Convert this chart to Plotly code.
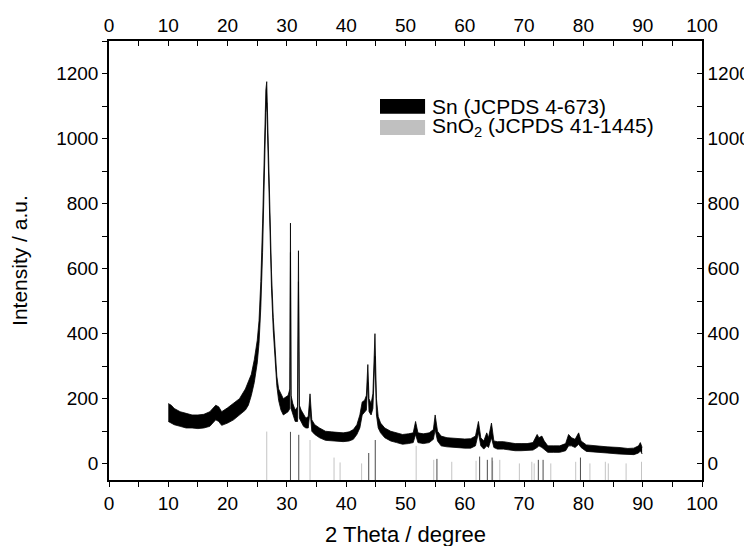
import plotly.graph_objects as go

two_theta = [10.0, 10.5, 11, 12, 13, 14, 15, 16, 17, 18, 18.5, 19, 20, 21, 22, 23, 23.5, 24, 24.5, 25,
             25.3, 25.6, 25.9, 26.1, 26.3, 26.45, 26.6, 26.75, 26.9, 27.1, 27.4, 27.7, 28.0, 28.3, 28.6,
             29.0, 29.4, 29.8, 30.2, 30.5, 30.6, 30.7, 31.0, 31.4, 31.8, 31.95, 32.1, 32.4, 32.8, 33.2,
             33.6, 33.9, 34.2, 34.7, 35.5, 36.5, 37.5, 38.5, 39.5, 40.5, 41.2, 41.8, 42.3, 42.7, 43.1,
             43.4, 43.65, 43.85, 44.2, 44.5, 44.85, 45.1, 45.4, 45.8, 46.5, 47.5, 48.5, 49.5, 50.5, 51.3,
             51.7, 52.1, 53, 54, 54.7, 55.0, 55.4, 56, 57, 58, 59, 60, 61, 61.8, 62.3, 62.7, 63.2, 63.7,
             64.0, 64.5, 64.9, 65.5, 66.5, 67.5, 68.5, 69.5, 70.5, 71.5, 72.2, 72.5, 73.0, 73.4, 74, 75,
             76, 77, 77.5, 78, 78.6, 79.2, 79.6, 80.5, 82, 84, 86, 87.5, 88.5, 89.3, 89.6, 89.9]
lower = [130, 125, 120, 115, 110, 110, 108, 110, 115, 135, 130, 118, 125, 135, 150, 165, 180, 210, 250, 310,
         370, 480, 650, 850, 1000, 1080, 1110, 1000, 840, 680, 540, 410, 310, 240, 195,
         165, 150, 155, 160, 170, 650, 170, 150, 130, 130, 560, 140, 130, 115, 110,
         110, 165, 100, 90, 80, 72, 70, 68, 68, 70, 75, 90, 110, 150, 160,
         165, 250, 160, 150, 170, 330, 150, 110, 95, 80, 70, 65, 60, 62, 65,
         90, 65, 62, 65, 75, 105, 70, 55, 52, 50, 48, 48, 48, 55, 95, 55, 45, 55,
         50, 80, 50, 45, 45, 42, 40, 40, 40, 42, 50, 55, 50, 45, 35, 35,
         35, 40, 55, 55, 50, 60, 50, 38, 35, 33, 30, 28, 28, 33, 40, 30]
upper = [185, 180, 170, 160, 155, 150, 150, 152, 160, 180, 175, 160, 172, 185, 200, 230, 250, 275, 320, 380,
         440, 560, 740, 930, 1080, 1150, 1175, 1060, 900, 730, 590, 450, 345, 270, 230,
         215, 200, 205, 210, 230, 740, 210, 185, 165, 175, 655, 180, 165, 150, 140,
         145, 215, 135, 120, 110, 100, 98, 97, 95, 98, 105, 120, 150, 190, 195,
         210, 305, 200, 185, 215, 400, 200, 145, 125, 110, 100, 95, 90, 92, 95,
         130, 95, 92, 95, 105, 150, 100, 85, 80, 78, 77, 76, 77, 85, 130, 80, 70, 95,
         80, 125, 70, 68, 68, 65, 62, 62, 62, 65, 90, 80, 85, 70, 55, 55,
         55, 62, 90, 80, 75, 95, 70, 58, 55, 52, 50, 47, 48, 55, 65, 50]

# reference patterns (position, relative intensity)
sn_pos = [30.6, 32.0, 43.8, 44.9, 55.3, 62.5, 63.8, 64.6, 72.4, 73.2, 79.5]
sn_int = [98, 89, 33, 73, 15, 22, 12, 19, 12, 12, 19]
sno2_pos = [26.6, 33.9, 37.95, 38.97, 42.6, 51.8, 54.76, 57.8, 61.9, 64.7, 65.9, 69.2, 71.3, 71.7,
            74.5, 78.7, 81.1, 83.7, 84.2, 87.2, 89.8]
sno2_int = [99, 73, 19, 4, 1, 55, 12, 6, 9, 9, 12, 1, 6, 1, 1, 6, 1, 6, 1, 1, 6]

Y_MIN, Y_MAX = -50, 1300


def sticks(pos, inten):
    xs, ys = [], []
    for p, h in zip(pos, inten):
        xs += [p, p, None]
        ys += [Y_MIN, h, None]
    return xs, ys


fig = go.Figure()

sx, sy = sticks(sno2_pos, sno2_int)
fig.add_trace(go.Scatter(x=sx, y=sy, mode="lines", line=dict(color="#c4c4c4", width=1), showlegend=False))
sx, sy = sticks(sn_pos, sn_int)
fig.add_trace(go.Scatter(x=sx, y=sy, mode="lines", line=dict(color="#4a4a4a", width=1), showlegend=False))

fig.add_trace(go.Scatter(x=two_theta, y=lower, mode="lines", line=dict(color="black", width=0.8),
                         showlegend=False))
fig.add_trace(go.Scatter(x=two_theta, y=upper, mode="lines", line=dict(color="black", width=0.8),
                         fill="tonexty", fillcolor="black", showlegend=False))

# dummy trace so the mirrored top / right axes get drawn
fig.add_trace(go.Scatter(x=[0], y=[0], xaxis="x2", yaxis="y2", mode="markers",
                         marker=dict(opacity=0), hoverinfo="skip", showlegend=False))

FONT = "Liberation Sans, Arial"
tickfont = dict(family=FONT, size=19, color="black")
common = dict(showline=True, linecolor="black", linewidth=1.5, showgrid=False, zeroline=False,
              tickcolor="black", ticklen=5, tickwidth=1.2, tickfont=tickfont, automargin=False)

# page body adds an 8px offset, so the figure is 8px smaller than the window
fig.update_layout(
    width=744, height=538,
    margin=dict(l=101, r=50, t=33, b=66),
    paper_bgcolor="white", plot_bgcolor="white",
    font=dict(family=FONT, color="black"),
    xaxis=dict(range=[0, 100], dtick=10, ticks="outside",
               minor=dict(dtick=5, ticks="outside", ticklen=5, tickcolor="black", tickwidth=1.2),
               **common),
    xaxis2=dict(range=[0, 100], dtick=10, ticks="inside", overlaying="x", side="top",
                minor=dict(dtick=5, ticks="inside", ticklen=5, tickcolor="black", tickwidth=1.2),
                **common),
    yaxis=dict(range=[Y_MIN, Y_MAX], dtick=200, tick0=0, ticks="outside",
               minor=dict(dtick=100, tick0=0, ticks="outside", ticklen=5, tickcolor="black", tickwidth=1.2),
               **common),
    yaxis2=dict(range=[Y_MIN, Y_MAX], dtick=200, tick0=0, ticks="inside", overlaying="y", side="right",
                minor=dict(dtick=100, tick0=0, ticks="inside", ticklen=5, tickcolor="black", tickwidth=1.2),
                **common),
)

# axis titles
fig.add_annotation(xref="paper", yref="paper", x=0.5, y=-0.125, xanchor="center", yanchor="middle",
                   text="2 Theta / degree", showarrow=False, font=dict(size=22))
fig.add_annotation(xref="paper", yref="paper", x=-0.151, y=0.5, xanchor="center", yanchor="middle",
                   text="Intensity / a.u.", textangle=-90, showarrow=False, font=dict(size=21))

# legend drawn as boxes + labels
fig.add_shape(type="rect", xref="paper", yref="paper", x0=0.457, x1=0.533, y0=0.834, y1=0.868,
              fillcolor="black", line_width=0)
fig.add_shape(type="rect", xref="paper", yref="paper", x0=0.457, x1=0.533, y0=0.786, y1=0.820,
              fillcolor="#c0c0c0", line_width=0)
fig.add_annotation(xref="paper", yref="paper", x=0.541, y=0.851, xanchor="left", yanchor="middle",
                   text="Sn (JCPDS 4-673)", showarrow=False, font=dict(size=21))
fig.add_annotation(xref="paper", yref="paper", x=0.541, y=0.803, xanchor="left", yanchor="middle",
                   text="SnO<sub>2</sub> (JCPDS 41-1445)", showarrow=False, font=dict(size=21))

fig.write_html("out.html")
